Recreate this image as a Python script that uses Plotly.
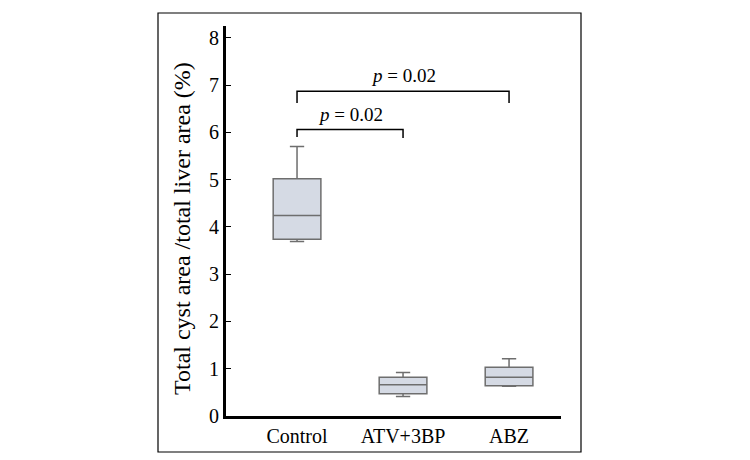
import plotly.graph_objects as go

categories = ["Control", "ATV+3BP", "ABZ"]
lower_whisker = [3.69, 0.41, 0.63]
q1 = [3.74, 0.47, 0.64]
median = [4.24, 0.66, 0.82]
q3 = [5.02, 0.82, 1.03]
upper_whisker = [5.70, 0.92, 1.21]
y_ticks = [0, 1, 2, 3, 4, 5, 6, 7, 8]

# significance brackets: (from, to, level, left drop, right drop, label)
brackets = [
    (0, 1, 6.06, 5.90, 5.88, "<i>p</i> = 0.02"),
    (0, 2, 6.87, 6.62, 6.62, "<i>p</i> = 0.02"),
]

FONT = "Liberation Serif, Times New Roman, serif"

fig = go.Figure()
fig.add_trace(go.Box(
    x=[0, 1, 2],
    q1=q1, median=median, q3=q3,
    lowerfence=lower_whisker, upperfence=upper_whisker,
    fillcolor="#d5dae4",
    line=dict(color="#6e6e6e", width=1.5),
    width=0.45,
    whiskerwidth=0.3,
    boxpoints=False,
    showlegend=False,
    hoverinfo="skip",
))

for a, b, lvl, dl, dr, lab in brackets:
    fig.add_trace(go.Scatter(
        x=[a, a, b, b], y=[dl, lvl, lvl, dr],
        mode="lines", line=dict(color="black", width=1.5),
        showlegend=False, hoverinfo="skip",
    ))
    fig.add_annotation(
        x=(a + b) / 2, y=lvl, yshift=3, text=lab, showarrow=False,
        yanchor="bottom", font=dict(family=FONT, size=19, color="black"),
    )

# y-axis title as rotated annotation
fig.add_annotation(
    xref="paper", yref="paper", x=(182 - 226) / 335, y=(416 - 229) / 390,
    text="Total cyst area /total liver area (%)", textangle=-90,
    showarrow=False, xanchor="center", yanchor="middle",
    font=dict(family=FONT, size=24, color="black"),
)

# outer frame
fig.add_shape(type="rect", xref="paper", yref="paper",
              x0=(158 - 226) / 335, x1=(581 - 226) / 335,
              y0=(416 - 452) / 390, y1=(416 - 13) / 390,
              line=dict(color="black", width=1.2), fillcolor="rgba(0,0,0,0)")

fig.update_layout(
    width=750, height=460,
    margin=dict(l=226, r=189, t=26, b=44),
    paper_bgcolor="white", plot_bgcolor="white",
    font=dict(family=FONT, color="black"),
    xaxis=dict(
        range=[-0.67, 2.49], automargin=False,
        tickmode="array", tickvals=[0, 1, 2], ticktext=categories,
        showline=True, linecolor="black", linewidth=3,
        showgrid=False, zeroline=False, ticks="",
        tickfont=dict(family=FONT, size=20, color="black"),
    ),
    yaxis=dict(
        range=[0, 8.25], automargin=False,
        tickmode="array", tickvals=y_ticks,
        showline=True, linecolor="black", linewidth=3,
        showgrid=False, zeroline=False,
        ticks="inside", ticklen=5, tickwidth=1, tickcolor="black",
        tickfont=dict(family=FONT, size=20, color="black"),
    ),
)

fig.write_html(
    "out.html",
    config={"displayModeBar": False},
    post_script="document.body.style.margin='0';document.body.style.overflow='hidden';",
)
